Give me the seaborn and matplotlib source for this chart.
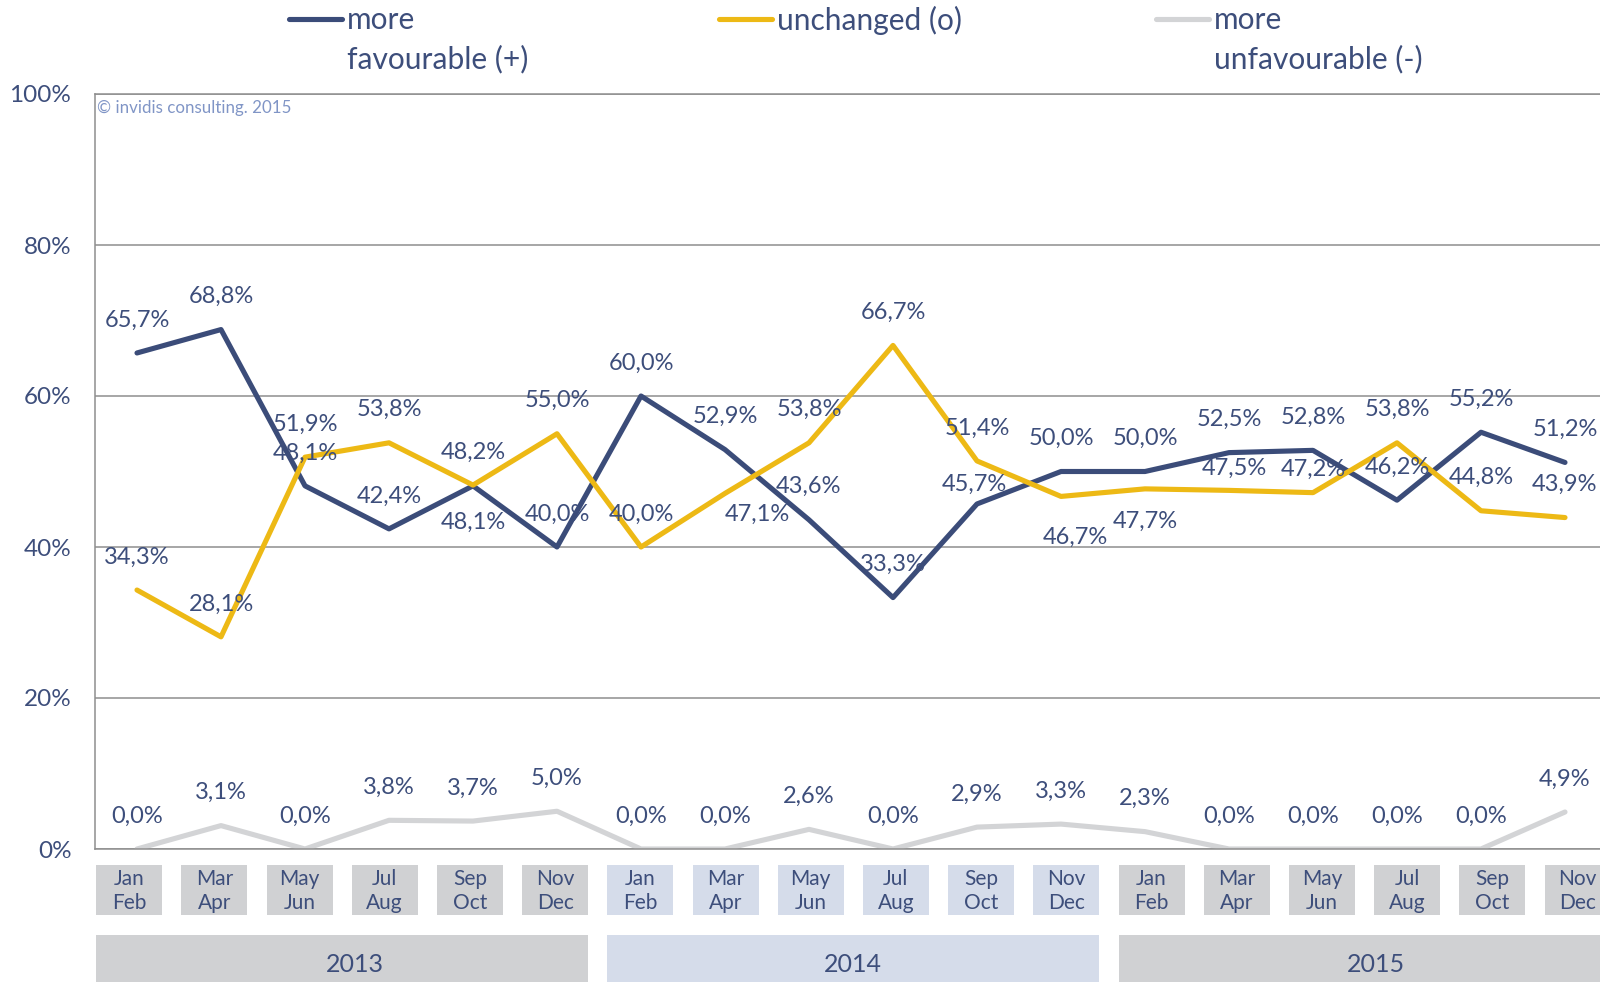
import matplotlib
matplotlib.use("Agg")
import matplotlib.pyplot as plt
from matplotlib.lines import Line2D
from matplotlib.patches import Rectangle
import numpy as np
import pandas as pd
import seaborn as sns

# ---- data -------------------------------------------------------------
years = ["2013", "2014", "2015"]
months = ["Jan\nFeb", "Mar\nApr", "May\nJun", "Jul\nAug", "Sep\nOct", "Nov\nDec"]
series_names = ["more\nfavourable (+)", "unchanged (o)", "more\nunfavourable (-)"]

favourable = [65.7, 68.8, 48.1, 42.4, 48.1, 40.0,
              60.0, 52.9, 43.6, 33.3, 45.7, 50.0,
              50.0, 52.5, 52.8, 46.2, 55.2, 51.2]
unchanged = [34.3, 28.1, 51.9, 53.8, 48.2, 55.0,
             40.0, 47.1, 53.8, 66.7, 51.4, 46.7,
             47.7, 47.5, 47.2, 53.8, 44.8, 43.9]
unfavourable = [0.0, 3.1, 0.0, 3.8, 3.7, 5.0,
                0.0, 0.0, 2.6, 0.0, 2.9, 3.3,
                2.3, 0.0, 0.0, 0.0, 0.0, 4.9]
y_ticks = [0, 20, 40, 60, 80, 100]

# ---- styling ----------------------------------------------------------
W, H = 1600, 982
NAVY = "#3B4C79"
TEXT = "#3D4E7B"
YELLOW = "#EDB915"
LIGHT = "#D3D4D6"
GRID = "#8E8E8E"
BOX_GREY = "#D0D1D3"
BOX_BLUE = "#D5DCEA"
palette = [NAVY, YELLOW, LIGHT]
year_colors = [BOX_GREY, BOX_BLUE, BOX_GREY]

# label offsets in pixels (dx, dy downwards); default sits above the point
DEFAULT_OFFSET = (0, -33)
label_offsets = {
    (0, 4): (0, 36),
    (0, 10): (-3, -20),
    (1, 7): (32, 21),
    (1, 11): (14, 41),
    (1, 12): (0, 32),
    (1, 13): (5, -22),
    (1, 14): (0, -23),
}
# horizontal nudges (pixels) of the year captions inside their bars
year_text_shift = [13, 0, 11]

sns.set_style("white")
plt.rcParams["font.family"] = ["Lato", "DejaVu Sans"]


def fx(px):
    return px / W


def fy(py):
    return 1 - py / H


n = len(years) * len(months)
positions = np.arange(n)
all_values = [favourable, unchanged, unfavourable]
df = pd.DataFrame({
    "pos": np.tile(positions, 3),
    "value": np.concatenate(all_values),
    "series": np.repeat(series_names, n),
})

fig = plt.figure(figsize=(W / 100, H / 100), dpi=100)
fig.patch.set_facecolor("white")

# main plotting area (runs slightly past the right edge)
ax = fig.add_axes([fx(95), fy(849), (1607 - 95) / W, (849 - 94) / H])
sns.lineplot(data=df, x="pos", y="value", hue="series", hue_order=series_names,
             palette=palette, linewidth=3.7, legend=False, sort=False, ax=ax)
for ln in ax.lines:
    ln.set_solid_capstyle("round")
    ln.set_solid_joinstyle("round")

ax.set_xlim(-0.5, n - 0.5)
ax.set_ylim(0, 100)
ax.set_xlabel("")
ax.set_ylabel("")
ax.set_xticks(np.arange(-0.5, n, 1.0))
ax.set_xticklabels([])
ax.set_yticks(y_ticks)
ax.set_yticklabels([f"{t}%" for t in y_ticks], color=TEXT, fontsize=17.5)
ax.tick_params(axis="both", length=5, width=1.1, color=GRID, direction="out")
ax.tick_params(axis="y", pad=12)
ax.yaxis.grid(True, color=GRID, linewidth=1.1)
ax.xaxis.grid(False)
for side in ["left", "bottom", "top"]:
    ax.spines[side].set_color(GRID)
    ax.spines[side].set_linewidth(1.1)
ax.spines["right"].set_visible(False)

# data labels
for s, vals in enumerate(all_values):
    for i, v in enumerate(vals):
        dx, dy = label_offsets.get((s, i), DEFAULT_OFFSET)
        ax.annotate(f"{v:.1f}%".replace(".", ","), xy=(i, v),
                    xytext=(dx * 0.72, -dy * 0.72), textcoords="offset points",
                    ha="center", va="center", fontsize=17, color=TEXT,
                    annotation_clip=False)

# copyright note
fig.text(fx(97), fy(108), "\u00a9 invidis consulting. 2015", ha="left", va="center",
         fontsize=12.2, color="#8095C6")

# legend drawn across the top
legend_items = [(289, 342, 347), (719, 772, 777), (1156, 1209, 1214)]
for (x0, x1, xt), name, col in zip(legend_items, series_names, palette):
    fig.add_artist(Line2D([fx(x0), fx(x1)], [fy(18.5), fy(18.5)], color=col,
                          linewidth=3.7, solid_capstyle="round",
                          transform=fig.transFigure))
    fig.text(fx(xt), fy(6), name, ha="left", va="top", fontsize=21.5,
             color=TEXT, linespacing=1.47, transform=fig.transFigure)

# category and year boxes below the axis
px_per_slot = 85.2
sx = fig.add_axes([fx(86.5), 0, 18 * px_per_slot / W, (H - 865) / H])
sx.set_xlim(-0.5, n - 0.5)
sx.set_ylim(H, 865)
sx.axis("off")
half = 33 / px_per_slot
for yi, (yr, col) in enumerate(zip(years, year_colors)):
    for mi, m in enumerate(months):
        i = yi * len(months) + mi
        sx.add_patch(Rectangle((i - half, 865), 2 * half, 50, facecolor=col,
                               edgecolor="none"))
        sx.text(i, 891, m, ha="center", va="center", fontsize=15, color=TEXT,
                linespacing=1.2)
    i0 = yi * len(months)
    i1 = i0 + len(months) - 1
    sx.add_patch(Rectangle((i0 - half, 935), (i1 - i0) + 2 * half, 60,
                           facecolor=col, edgecolor="none"))
    sx.text((i0 + i1) / 2 + year_text_shift[yi] / px_per_slot, 964, yr,
            ha="center", va="center", fontsize=18, color=TEXT)

fig.savefig("out.png", dpi=100, facecolor="white")
